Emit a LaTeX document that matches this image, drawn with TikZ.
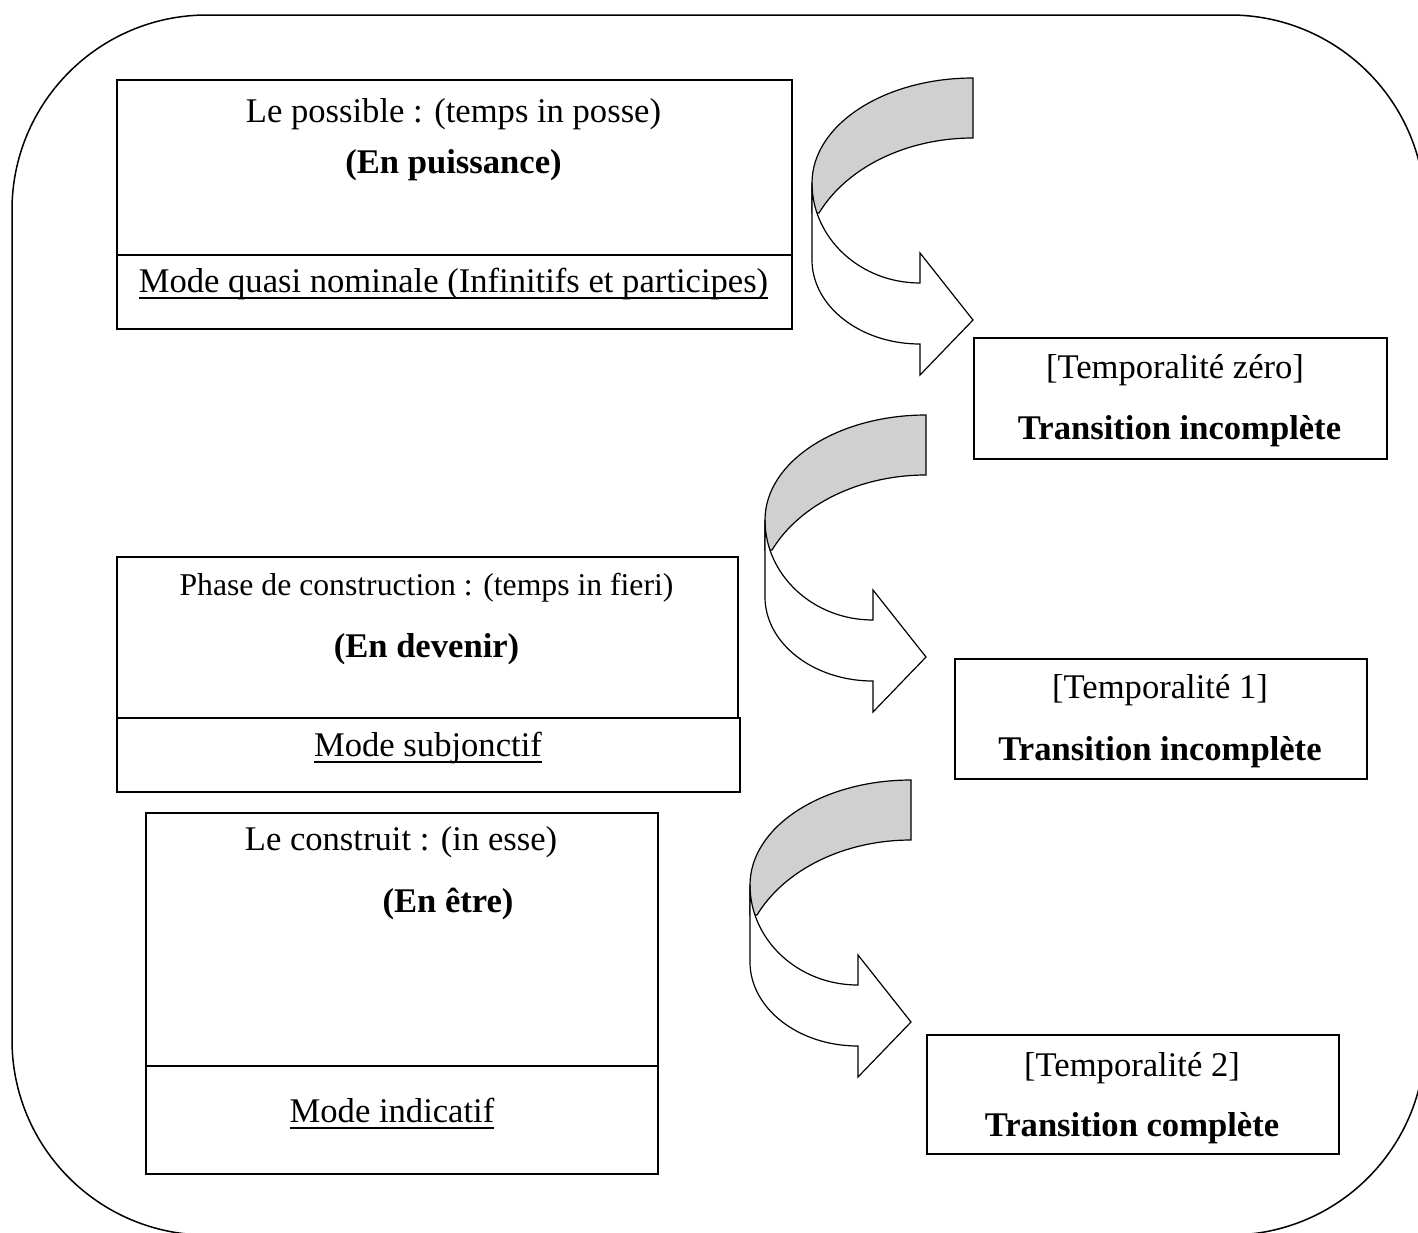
\documentclass[tikz,border=0pt]{standalone}
\usepackage{fontspec}
\setmainfont{Liberation Serif}
\definecolor{ribbongrey}{RGB}{208,208,208}
% underline that crosses the descenders, as a word processor draws it
\newcommand\wordul[1]{\sbox0{#1}\rlap{\rule[-0.2em]{\wd0}{0.055em}}\usebox0}
\begin{document}
\begin{tikzpicture}[x=1pt,y=-1pt,
  frame/.style={draw,line width=1.5pt},
  panel/.style={draw,line width=1.6pt,inner sep=0pt,anchor=north west},
  txt/.style={anchor=base,inner sep=0pt,font=\fontsize{34.6}{40}\selectfont},
  small/.style={anchor=base,inner sep=0pt,font=\fontsize{31.7}{38}\selectfont},
  ribbon/.pic={
    % shaded back face of the turning band
    \filldraw[line width=1.2pt,fill=ribbongrey]
      (0,0) .. controls (-89,0) and (-161,47) .. (-161,105)
      -- (-161,135) -- (-154,135)
      .. controls (-126,89) and (-66,60) .. (0,60) -- cycle;
    % front face ending in the arrow head
    \filldraw[line width=1.2pt,fill=white]
      (-161,105) -- (-161,182)
      .. controls (-161,228) and (-113,266) .. (-53,266)
      -- (-53,297) -- (0,242) -- (-53,175) -- (-53,205)
      .. controls (-113,205) and (-161,160) .. (-161,105) -- cycle;
  }]
\useasboundingbox (0,0) rectangle (1418,1232);
\begin{scope}
  \clip (0,0) rectangle (1418,1232);
  \draw[frame,rounded corners=195pt] (12,15) rectangle (1425,1235);
\end{scope}

% left column: the three stages
\node[panel,minimum width=675pt,minimum height=175pt] (p1) at (116,79) {};
\node[panel,minimum width=675pt,minimum height=74pt] (m1) at (116,254) {};
\node[txt] (p1a) at (453.5,122) {Le possible : (temps in posse)};
\node[txt] (p1b) at (453.5,173) {\bfseries (En puissance)};
\node[txt] (m1a) at (453.5,292) {\wordul{Mode quasi nominale (Infinitifs et participes)}};

\node[panel,minimum width=621pt,minimum height=161pt] (p2) at (116,556) {};
\node[panel,minimum width=623pt,minimum height=74pt] (m2) at (116,717) {};
\node[small] (p2a) at (426.5,595) {Phase de construction : (temps in fieri)};
\node[txt] (p2b) at (426.5,657) {\bfseries (En devenir)};
\node[txt] (m2a) at (428,756) {\wordul{Mode subjonctif}};

\node[panel,minimum width=512pt,minimum height=253pt] (p3) at (145,812) {};
\node[panel,minimum width=512pt,minimum height=108pt] (m3) at (145,1065) {};
\node[txt] (p3a) at (401,850) {Le construit : (in esse)};
\node[txt] (p3b) at (448,912) {\bfseries (En être)};
\node[txt] (m3a) at (392,1122) {\wordul{Mode indicatif}};

% right column: the temporalities
\node[panel,minimum width=413pt,minimum height=121pt] (t0) at (973,337) {};
\node[txt] (t0a) at (1175,378) {[Temporalité zéro]};
\node[txt] (t0b) at (1179.5,439) {\bfseries Transition incomplète};

\node[panel,minimum width=412pt,minimum height=120pt] (t1) at (954,658) {};
\node[txt] (t1a) at (1160,698) {[Temporalité 1]};
\node[txt] (t1b) at (1160,760) {\bfseries Transition incomplète};

\node[panel,minimum width=412pt,minimum height=119pt] (t2) at (926,1034) {};
\node[txt] (t2a) at (1132,1076) {[Temporalité 2]};
\node[txt] (t2b) at (1132,1136) {\bfseries Transition complète};

% turning arrows between the stages
\pic at (973,78) {ribbon};
\pic at (926,415) {ribbon};
\pic at (911,780) {ribbon};
\end{tikzpicture}
\end{document}
